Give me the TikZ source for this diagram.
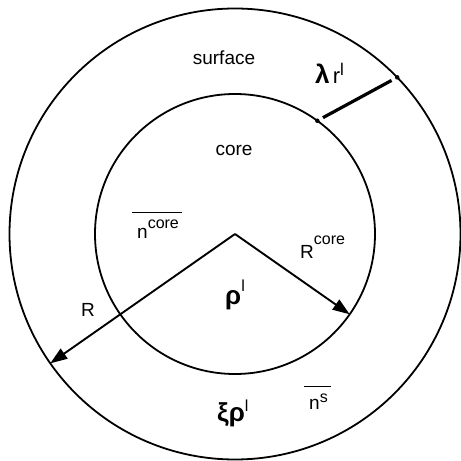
\documentclass[tikz,border=0pt]{standalone}
\usepackage{fontspec}
\setmainfont{Liberation Sans}
\usetikzlibrary{arrows.meta}
% raised small text and barred group
\newcommand{\sups}[2]{\raisebox{#1}{\fontsize{16}{16}\selectfont #2}}
\newcommand{\grk}[1]{{\fontsize{26}{26}\selectfont\bfseries #1}}
\newcommand{\barred}[1]{\vbox{\hrule height 1.5pt\kern 7pt\hbox{\kern5pt#1\kern3pt}}}
\tikzset{
  ring/.style={draw,circle,inner sep=0pt,outer sep=0pt,line width=1.8pt},
  dot/.style={circle,fill,inner sep=0pt,minimum size=4.5pt},
  radarrow/.style={line width=1.9pt,-{Triangle[length=17pt,width=12pt]}},
  gap/.style={line width=3.2pt,shorten <=4pt,shorten >=4pt},
  lbl/.style={inner sep=0pt,font=\fontsize{19}{21}\selectfont},
}
\begin{document}
\begin{tikzpicture}[x=1pt,y=1pt]
  \useasboundingbox (0,0) rectangle (461,461);
  \coordinate (c) at (235,227);
  \node[ring,minimum size=451pt] (outer) at (c) {};
  \node[ring,minimum size=280pt] (core) at (c) {};
  \draw[radarrow] (c) -- (outer.215);
  \draw[radarrow] (c) -- (core.-35);
  \node[dot] (din) at (core.54.5) {};
  \node[dot] (dout) at (outer.44.5) {};
  \draw[gap] (din) -- (dout);
  % labels
  \node[lbl] (surf) at (224,403) {surface};
  \node[lbl] (corelbl) at (234,311) {core};
  \node[lbl,anchor=base west] (ncore) at (132,222) {\barred{n\sups{10pt}{core}}};
  \node[lbl,anchor=base west] (Rcore) at (300,202) {R\sups{14pt}{core}};
  \node[lbl,anchor=base west] (rho) at (225,156) {\grk{ρ}\sups{13pt}{l}};
  \node[lbl,anchor=base west] (Rlbl) at (81,144) {R};
  \node[lbl,anchor=base west] (xirho) at (217,39) {\grk{ξρ}\sups{10pt}{l}};
  \node[lbl,anchor=base west] (ns) at (304,51) {\barred{n\sups{7pt}{s}}};
  \node[lbl,anchor=base west] (lam) at (315,377) {\grk{λ}\,{\fontsize{22}{22}\selectfont r}\sups{8pt}{\fontsize{17}{17}\selectfont l}};
\end{tikzpicture}
\end{document}
